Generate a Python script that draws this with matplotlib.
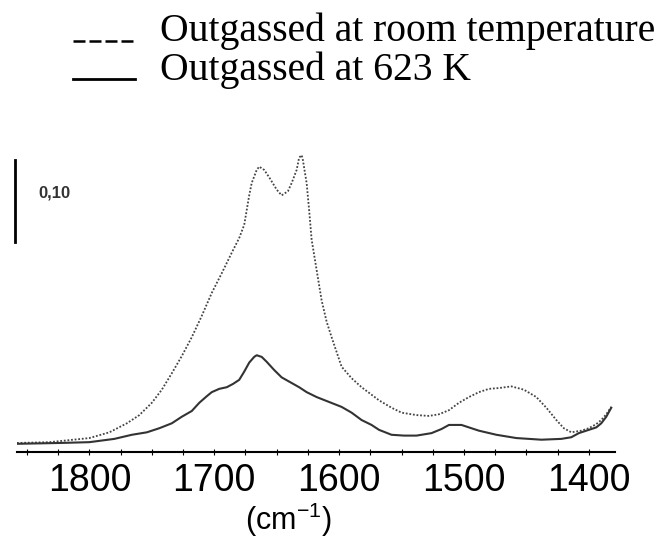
import matplotlib
matplotlib.use("Agg")
import matplotlib.pyplot as plt
from matplotlib.lines import Line2D
from matplotlib.ticker import MultipleLocator

plt.rcParams["mathtext.fontset"] = "custom"
plt.rcParams["mathtext.rm"] = "Liberation Sans"

# FTIR spectra (wavenumber in cm-1, absorbance)
wn_room = [1858, 1832, 1800, 1784, 1770, 1760, 1750, 1742, 1734, 1726, 1718, 1710,
           1702, 1694, 1686, 1680, 1676, 1672, 1670, 1666, 1664, 1660, 1656, 1650,
           1646, 1641, 1638, 1634, 1632, 1630, 1629, 1626, 1624, 1622, 1618, 1614,
           1610, 1606, 1598, 1590, 1582, 1568, 1558, 1550, 1538, 1528, 1520, 1512,
           1504, 1496, 1488, 1480, 1472, 1462, 1452, 1442, 1434, 1426, 1420, 1414,
           1406, 1400, 1394, 1390, 1386, 1382]
abs_room = [0.011, 0.012, 0.017, 0.024, 0.035, 0.045, 0.060, 0.076, 0.096, 0.117, 0.140, 0.166,
            0.194, 0.218, 0.243, 0.261, 0.277, 0.313, 0.328, 0.344, 0.348, 0.344, 0.335, 0.320,
            0.313, 0.318, 0.328, 0.344, 0.359, 0.362, 0.356, 0.328, 0.295, 0.259, 0.222, 0.185,
            0.159, 0.140, 0.104, 0.090, 0.079, 0.063, 0.054, 0.048, 0.045, 0.044, 0.046, 0.051,
            0.060, 0.067, 0.073, 0.077, 0.078, 0.080, 0.076, 0.067, 0.054, 0.039, 0.029, 0.024,
            0.026, 0.029, 0.034, 0.039, 0.046, 0.055]

wn_623 = [1858, 1824, 1800, 1780, 1766, 1754, 1744, 1734, 1726, 1718, 1712, 1706,
          1702, 1696, 1690, 1685, 1680, 1676, 1672, 1668, 1666, 1662, 1658, 1652,
          1646, 1639, 1632, 1626, 1618, 1608, 1598, 1590, 1582, 1574, 1568, 1558,
          1548, 1538, 1526, 1518, 1512, 1502, 1494, 1488, 1474, 1458, 1438, 1422,
          1414, 1408, 1400, 1394, 1390, 1386, 1382]
abs_623 = [0.010, 0.011, 0.012, 0.016, 0.021, 0.024, 0.029, 0.035, 0.043, 0.050, 0.060, 0.068,
           0.073, 0.077, 0.079, 0.083, 0.088, 0.098, 0.109, 0.116, 0.118, 0.116, 0.110, 0.100,
           0.091, 0.085, 0.079, 0.073, 0.067, 0.061, 0.055, 0.048, 0.039, 0.033, 0.027, 0.021,
           0.020, 0.020, 0.023, 0.028, 0.033, 0.033, 0.029, 0.026, 0.021, 0.017, 0.015, 0.016,
           0.018, 0.023, 0.027, 0.030, 0.035, 0.043, 0.054]

ticks = [1800, 1700, 1600, 1500, 1400]
legend_labels = ["Outgassed at room temperature", "Outgassed at 623 K"]

fig = plt.figure(figsize=(6.62, 5.41), dpi=100)
ax = fig.add_axes([17/662, 1 - 452/541, (615 - 17)/662, (452 - 150)/541])

ax.plot(wn_room, abs_room, color="#444444", lw=1.3, ls=(0, (1, 1)))
ax.plot(wn_623, abs_623, color="#333333", lw=1.5)

ax.set_xlim(1858, 1379)
ax.set_ylim(0, (452 - 150)/820)

for s in ["left", "right", "top"]:
    ax.spines[s].set_visible(False)
ax.spines["bottom"].set_linewidth(1.5)
ax.set_yticks([])
ax.set_xticks(ticks)
ax.xaxis.set_minor_locator(MultipleLocator(25))
ax.tick_params(axis="x", which="both", direction="inout", length=4, width=0.8,
               pad=6, labelsize=27)
for lab in ax.get_xticklabels():
    lab.set_fontfamily("Liberation Sans")
fig.text(288/662, 1 - 530/541, r"(cm$^{\mathrm{-1}}$)", fontsize=22,
         family="Liberation Sans", ha="center", va="baseline")

# scale bar
ax.plot([1860, 1860], [0.256, 0.356], color="black", lw=2, clip_on=False)
ax.text(1841, 0.316, "0,10", fontsize=12, fontweight="bold", color="#333333",
        family="Liberation Sans", va="center", ha="left")

# legend drawn by hand
fig.add_artist(Line2D([73/662, 135/662], [1 - 41/541, 1 - 41/541], color="black",
                      lw=1.8, ls=(0, (4.8, 1.6))))
fig.add_artist(Line2D([73/662, 135/662], [1 - 79/541, 1 - 79/541], color="black", lw=2))
fig.text(160/662, 1 - 41/541, legend_labels[0], fontsize=28.5,
         family="Liberation Serif", va="baseline", ha="left")
fig.text(160/662, 1 - 80/541, legend_labels[1], fontsize=28.5,
         family="Liberation Serif", va="baseline", ha="left")

fig.savefig("out.png", dpi=100)
